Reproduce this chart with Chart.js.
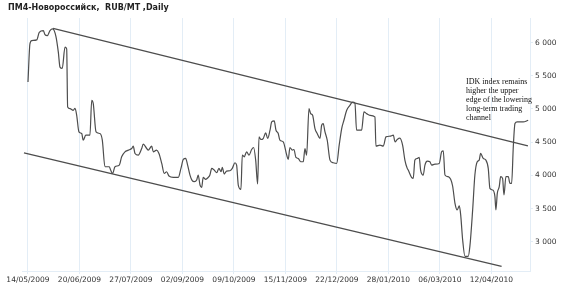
<!DOCTYPE html>
<html>
<head>
<meta charset="utf-8">
<script src="https://cdn.jsdelivr.net/npm/chart.js@4"></script>
<style>
  html, body { margin: 0; padding: 0; background: #fff; }
  #wrap { width: 570px; height: 290px; }
</style>
</head>
<body>
<div id="wrap"><canvas id="chart" width="570" height="290"></canvas></div>
<script>
// days counted from 14/05/2009
const priceDays = [0, 1.4, 2.7, 6.3, 8.1, 11, 12.2, 13.9, 15.8, 17.7, 20.1, 21.8, 23, 24.6, 26.6, 27.8, 28.5, 30.2, 32.5, 33.8,
  35, 36.6, 38.6, 39.7, 41.5, 44.5, 45.8, 46.9, 48.9, 51.7, 53.4, 55.3, 58.4, 59.4, 60.8, 62.5, 65.6, 67.3, 69.7, 72.1,
  74.5, 75.6, 76.9, 79.2, 81.7, 82.8, 85.3, 86.4, 88.9, 90, 92.4, 94.1, 96.1, 97.9, 99.6, 101.3, 104.4, 108, 109.9, 111.6,
  113.3, 114.7, 116.4, 118, 119.5, 121.2, 122.3, 123.6, 124.8, 125.9, 127.7, 129.5, 130.7, 132, 133.8, 135.6, 137.2, 138.7, 139.6, 141,
  142.7, 145.1, 146.8, 148.7, 149.9, 151.1, 153, 154, 155.4, 157.1, 158.8, 160.7, 162.1, 163.6, 165, 166, 167.4, 169, 170.8, 172.2,
  173.9, 175.1, 176.9, 178.2, 179.8, 181, 183.4, 185.9, 187, 188.2, 189.9, 191.1, 192.5, 194.2, 195.9, 197.8, 199, 200.2, 201.9, 203.1,
  204.5, 206.2, 207.8, 209.8, 211, 212.1, 213.4, 215, 217, 219.3, 221.8, 223.6, 225.4, 227, 229, 231.3, 233.3, 234.9, 236.1, 239.7,
  241.4, 243.3, 245.7, 249.3, 250, 252.9, 255.3, 257.2, 260.1, 262.5, 263.7, 265.3, 267.2, 269.2, 270.8, 272.5, 273.2, 275.6, 276.8, 278,
  279.7, 281.1, 282.1, 284, 285.2, 286.9, 288.8, 290, 292.4, 295.5, 297.2, 298.4, 299.6, 301.9, 303.7, 305.1, 306.8, 308.4, 309.9, 310.9,
  312.3, 314, 316.3, 317.5, 319.5, 321.1, 322.8, 324.2, 325.2, 327.1, 329, 330.7, 331.9, 333.9, 335.5, 336.2, 337.2, 338.6, 339.6, 341,
  342, 343.4, 345.1, 346.3, 347.5, 348.7, 349.9, 351.5, 355.8, 359.4];
const priceValues = [5405, 5980, 6030, 6040, 6155, 6180, 6120, 6105, 6180, 6205, 6090, 5855, 5630, 5610, 5930, 5905, 5030, 5005, 4980, 5010,
  4905, 4655, 4630, 4530, 4605, 4605, 5130, 5080, 4655, 4630, 4530, 4130, 4130, 4080, 4030, 4130, 4155, 4280, 4355, 4380,
  4405, 4440, 4330, 4305, 4405, 4470, 4405, 4380, 4440, 4355, 4380, 4330, 4180, 4030, 4055, 3990, 3970, 3970, 4105, 4240,
  4255, 4155, 4005, 3920, 3905, 3930, 4005, 3855, 3820, 3970, 3940, 3970, 4005, 4105, 4080, 4040, 4105, 4055, 4120, 4020,
  4065, 4070, 4105, 4190, 4155, 3855, 3790, 4305, 4280, 4355, 4305, 4390, 4420, 4230, 3870, 4580, 4540, 4555, 4640, 4555,
  4680, 4805, 4820, 4680, 4630, 4530, 4505, 4305, 4240, 4420, 4380, 4390, 4270, 4255, 4205, 4205, 4405, 4305, 5005, 4930,
  4905, 4705, 4630, 4555, 4755, 4780, 4655, 4530, 4230, 4190, 4180, 4455, 4705, 4830, 4980, 5055, 5105, 5090, 4680, 4680,
  4955, 4930, 4905, 4880, 4440, 4455, 4440, 4580, 4590, 4605, 4505, 4540, 4560, 4450, 4230, 4105, 4080, 3970, 3955, 4230,
  4255, 4270, 4080, 4005, 4155, 4215, 4205, 4155, 4170, 4180, 4355, 4370, 4005, 3980, 3940, 3840, 3580, 3480, 3540, 3405,
  3030, 2780, 2780, 2930, 3480, 4005, 4205, 4230, 4330, 4255, 4230, 4105, 3805, 3780, 3680, 3480, 3730, 3830, 3980, 3955,
  3705, 3980, 3980, 3880, 3880, 4430, 4780, 4805, 4805, 4830];

// trading channel edges
const upperDays = [18, 359.2];
const upperValues = [6215, 4445];
const lowerDays = [-2.9, 340.3];
const lowerValues = [4340, 2630];

const tickDays = [0, 37, 74, 111, 148, 185, 222, 259, 296, 333];
const tickLabels = ['14/05/2009', '20/06/2009', '27/07/2009', '02/09/2009', '09/10/2009',
  '15/11/2009', '22/12/2009', '28/01/2010', '06/03/2010', '12/04/2010'];
const yTicks = [3000, 3500, 4000, 4500, 5000, 5500, 6000];

const chartTitle = 'ПМ4-Новороссийск,  RUB/MT ,Daily';
const noteLines = ['IDK index remains', 'higher the upper', 'edge of the lowering', 'long-term trading', 'channel'];

const gridBlue = '#e3edf6';
const lineGrey = '#4d4d4d';

const toPoints = (xs, ys) => xs.map((x, i) => ({ x: x, y: ys[i] }));

// title + note text drawn straight on canvas
const textPlugin = {
  id: 'texts',
  afterDraw(chart) {
    const ctx = chart.ctx;
    ctx.save();
    ctx.fillStyle = '#222';
    ctx.font = 'bold 8px "DejaVu Sans"';
    ctx.textBaseline = 'alphabetic';
    ctx.fillText(chartTitle, 8, 10);

    ctx.fillStyle = '#111';
    ctx.font = '8px "Liberation Serif"';
    noteLines.forEach((t, i) => ctx.fillText(t, 466, 84 + i * 9));
    ctx.restore();
  }
};

new Chart(document.getElementById('chart'), {
  type: 'line',
  data: {
    datasets: [
      {
        data: toPoints(priceDays, priceValues),
        borderColor: lineGrey,
        borderWidth: 1.2,
        pointRadius: 0,
        cubicInterpolationMode: 'monotone'
      },
      {
        data: toPoints(upperDays, upperValues),
        borderColor: lineGrey,
        borderWidth: 1.2,
        pointRadius: 0
      },
      {
        data: toPoints(lowerDays, lowerValues),
        borderColor: lineGrey,
        borderWidth: 1.2,
        pointRadius: 0
      }
    ]
  },
  options: {
    responsive: false,
    animation: false,
    layout: { padding: { top: 18, left: 22, right: 0, bottom: 0 } },
    plugins: {
      legend: { display: false },
      title: { display: false },
      tooltip: { enabled: false }
    },
    scales: {
      x: {
        type: 'linear',
        min: -4.3,
        max: 360.7,
        afterBuildTicks: (scale) => { scale.ticks = tickDays.map(v => ({ value: v })); },
        afterFit: (scale) => { scale.height = 19; },
        grid: { color: gridBlue, tickLength: 3, drawTicks: true },
        border: { display: true, color: gridBlue },
        ticks: {
          autoSkip: false,
          maxRotation: 0,
          padding: 2,
          color: '#333',
          font: { family: 'DejaVu Sans', size: 7.5 },
          callback: (v) => tickLabels[tickDays.indexOf(v)] || ''
        }
      },
      y: {
        position: 'right',
        min: 2560,
        max: 6370,
        afterBuildTicks: (scale) => { scale.ticks = yTicks.map(v => ({ value: v })); },
        afterFit: (scale) => { scale.width = 40; },
        grid: { drawOnChartArea: false, color: gridBlue, tickLength: 3 },
        border: { display: true, color: gridBlue },
        ticks: {
          padding: 2,
          color: '#333',
          font: { family: 'DejaVu Sans', size: 7.5 },
          callback: (v) => String(v).replace(/\B(?=(\d{3})+(?!\d))/g, ' ')
        }
      }
    }
  },
  plugins: [textPlugin]
});
</script>
</body>
</html>
